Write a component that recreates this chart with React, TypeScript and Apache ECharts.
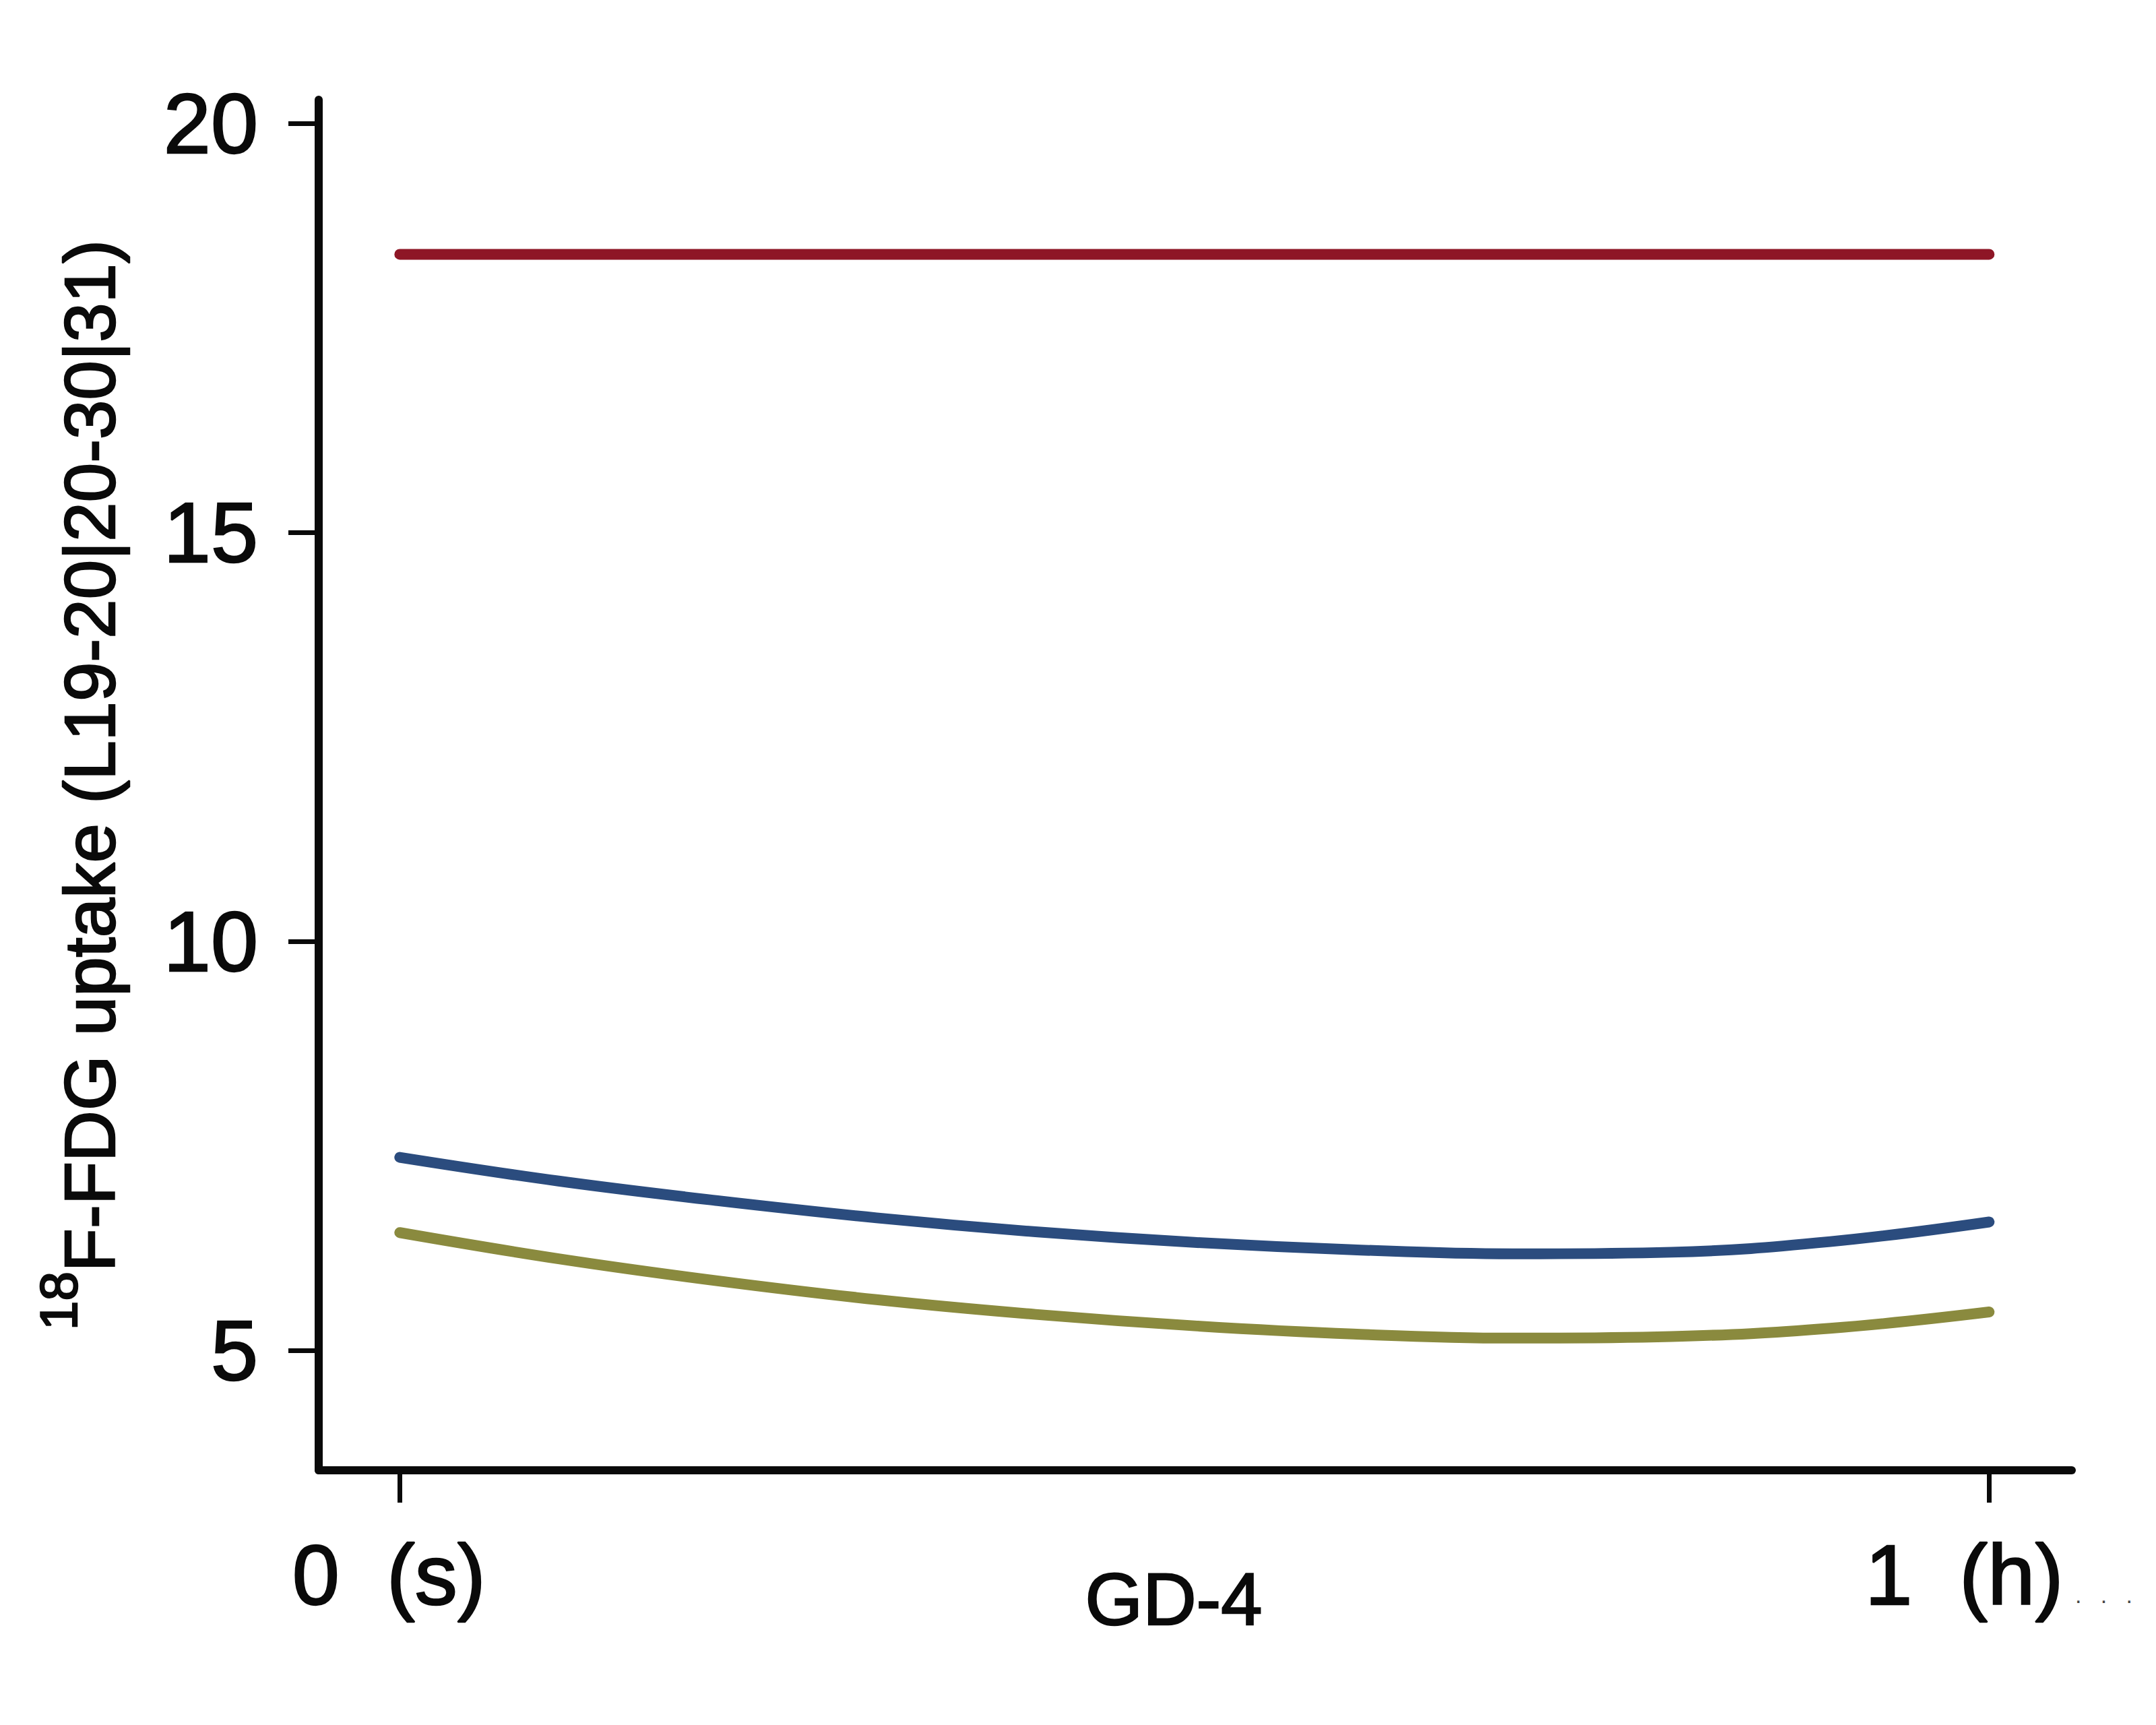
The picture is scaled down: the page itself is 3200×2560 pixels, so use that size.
import React, { useEffect, useRef } from "react";
import * as echarts from "echarts";

// x positions (0 = seconds, 1 = hour) at which the curves were read
const xPositions = [0, 0.1, 0.2, 0.3, 0.4, 0.5, 0.6, 0.7, 0.8, 0.9, 1.0];
const redValues = [18.4, 18.4, 18.4, 18.4, 18.4, 18.4, 18.4, 18.4, 18.4, 18.4, 18.4];
const blueValues = [7.36, 7.07, 6.83, 6.62, 6.45, 6.32, 6.23, 6.18, 6.2, 6.33, 6.57];
const oliveValues = [6.44, 6.12, 5.85, 5.62, 5.44, 5.3, 5.2, 5.15, 5.17, 5.27, 5.47];

const xTickValues = [0, 1];
const xTickLabels = ["0  (s)", "1  (h)"];
const yTickValues = [5, 10, 15, 20];

const yTitleSup = "18";
const yTitleMain = "F-FDG uptake (L19-20|20-30|31)";
const xTitle = "GD-4";
const trailingDots = ".   .   .";

const FONT = "'Liberation Sans', Arial, Helvetica, sans-serif";
const INK = "#0a0a0a";
const heavy = { textBorderColor: INK, textBorderWidth: 2.5 };

function pairs(xs: number[], ys: number[]) {
  return xs.map((x, i) => [x, ys[i]]);
}

export default function App() {
  const ref = useRef<HTMLDivElement>(null);
  useEffect(() => {
    if (!ref.current) return;
    const chart = echarts.init(ref.current, undefined, { renderer: "svg" });
    const lineBase = {
      type: "line" as const,
      showSymbol: false,
      smooth: 0.4,
      silent: true,
    };
    chart.setOption({
      animation: false,
      backgroundColor: "#ffffff",
      grid: { left: 473, right: 125, top: 148, bottom: 378, containLabel: false },
      xAxis: {
        type: "value",
        min: -0.051,
        max: 1.052,
        name: xTitle,
        nameLocation: "middle",
        nameGap: 135,
        nameMoveOverlap: false,
        nameTextStyle: {
          fontFamily: FONT,
          fontSize: 110,
          color: INK,
          padding: [0, 64, 0, 0],
          ...heavy,
        },
        axisLine: { show: true, onZero: false, lineStyle: { color: INK, width: 12, cap: "round" } },
        axisTick: {
          show: true,
          length: 48,
          lineStyle: { color: INK, width: 7 },
          customValues: xTickValues,
        },
        axisLabel: {
          show: true,
          margin: 92,
          customValues: xTickValues,
          formatter: (v: number) => {
            const i = xTickValues.indexOf(v);
            if (i < 0) return "";
            return i === 0 ? `{s|${xTickLabels[i]}}` : `{h|${xTickLabels[i]}}`;
          },
          rich: {
            s: { fontFamily: FONT, fontSize: 126, color: INK, padding: [0, 32, 0, 0], ...heavy },
            h: { fontFamily: FONT, fontSize: 126, color: INK, padding: [0, 74, 0, 0], ...heavy },
          },
        },
        splitLine: { show: false },
      },
      yAxis: {
        type: "value",
        min: 3.534,
        max: 20.29,
        name: `{sup|${yTitleSup}}{main|${yTitleMain}}`,
        nameLocation: "middle",
        nameRotate: 90,
        nameGap: 255,
        nameMoveOverlap: false,
        nameTextStyle: {
          rich: {
            sup: { fontFamily: FONT, fontSize: 78, lineHeight: 78, verticalAlign: "top", color: INK, ...heavy },
            main: { fontFamily: FONT, fontSize: 105, lineHeight: 170, color: INK, ...heavy },
          },
        },
        axisLine: { show: true, onZero: false, lineStyle: { color: INK, width: 12 } },
        axisTick: {
          show: true,
          length: 45,
          lineStyle: { color: INK, width: 7 },
          customValues: yTickValues,
        },
        axisLabel: {
          show: true,
          margin: 90,
          fontFamily: FONT,
          fontSize: 126,
          color: INK,
          ...heavy,
          customValues: yTickValues,
        },
        splitLine: { show: false },
      },
      graphic: [
        {
          type: "text",
          left: 3080,
          top: 2350,
          style: { text: trailingDots, fontFamily: FONT, fontSize: 34, fill: "#444" },
          silent: true,
        },
      ],
      series: [
        {
          ...lineBase,
          name: "red",
          data: pairs(xPositions, redValues),
          lineStyle: { color: "#8E1626", width: 16, cap: "round" },
          itemStyle: { color: "#8E1626" },
        },
        {
          ...lineBase,
          name: "blue",
          data: pairs(xPositions, blueValues),
          lineStyle: { color: "#2B4C7E", width: 16, cap: "round" },
          itemStyle: { color: "#2B4C7E" },
        },
        {
          ...lineBase,
          name: "olive",
          data: pairs(xPositions, oliveValues),
          lineStyle: { color: "#8A8A3E", width: 16, cap: "round" },
          itemStyle: { color: "#8A8A3E" },
        },
      ],
    });
    return () => chart.dispose();
  }, []);
  return (
    <div
      ref={ref}
      style={{ position: "absolute", left: 0, top: 0, width: 3200, height: 2560, background: "#fff" }}
    />
  );
}
